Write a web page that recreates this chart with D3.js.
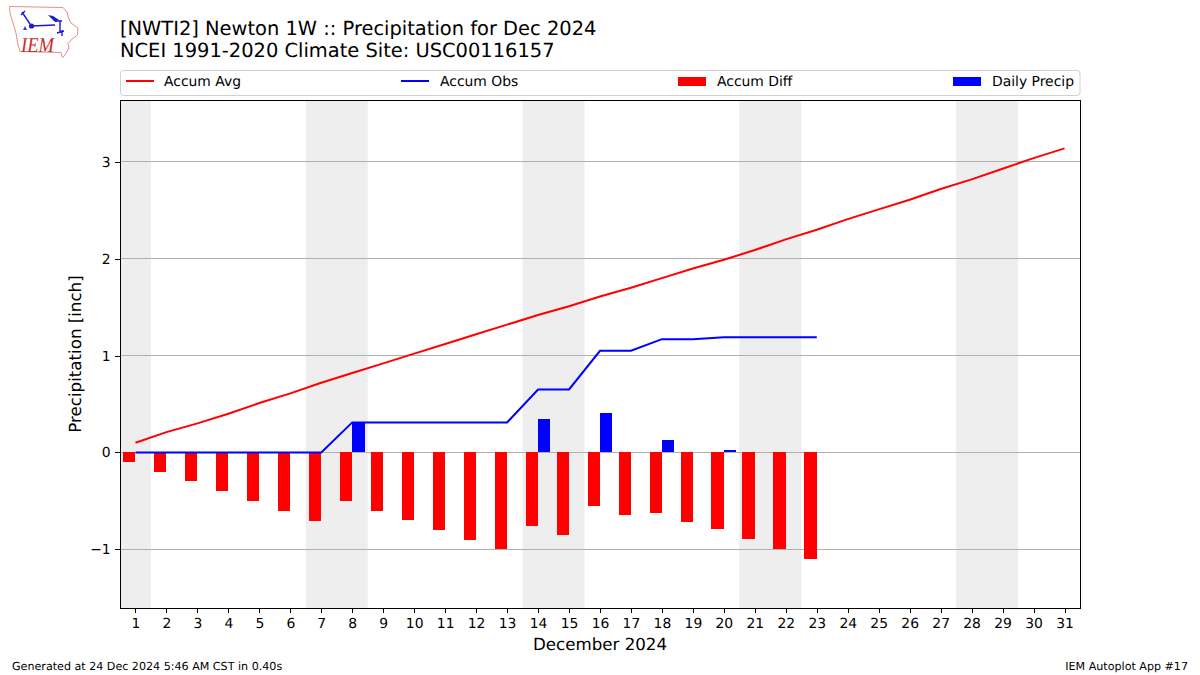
<!DOCTYPE html>
<html><head><meta charset="utf-8"><style>
html,body{margin:0;padding:0;background:#fff}
svg{display:block}
text{font-family:"DejaVu Sans",sans-serif;fill:#000;text-rendering:geometricPrecision}
</style><script src="https://cdn.jsdelivr.net/npm/d3@7"></script></head><body><svg id="c" width="1200" height="675"></svg>
<script>
const days = d3.range(1,32);
const accumAvg = [0.10,0.21,0.30,0.40,0.51,0.61,0.72,0.82,0.92,1.02,1.12,1.22,1.32,1.42,1.51,1.61,1.70,1.80,1.90,1.99,2.09,2.20,2.30,2.41,2.51,2.61,2.72,2.82,2.93,3.04,3.14];
const accumObs = [0,0,0,0,0,0,0,0.31,0.31,0.31,0.31,0.31,0.31,0.65,0.65,1.05,1.05,1.17,1.17,1.19,1.19,1.19,1.19];
const accumDiff = [-0.10,-0.20,-0.30,-0.40,-0.50,-0.605,-0.71,-0.50,-0.605,-0.70,-0.80,-0.905,-1.00,-0.76,-0.85,-0.555,-0.65,-0.63,-0.72,-0.79,-0.895,-1.00,-1.10];
const dailyDays = [8,14,16,18,20];
const dailyPrecip = [0.31,0.345,0.405,0.127,0.025];
const weekends = [[0.5,1.5],[6.5,8.5],[13.5,15.5],[20.5,22.5],[27.5,29.5]];
const yTicks = [-1,0,1,2,3];
const legendLabels = ["Accum Avg","Accum Obs","Accum Diff","Daily Precip"];
const titleLines = ["[NWTI2] Newton 1W :: Precipitation for Dec 2024","NCEI 1991-2020 Climate Site: USC00116157"];

const svg = d3.select("#c");
const L=120,R=1080,T=100,B=608;
const x = d3.scaleLinear().domain([0.5,31.5]).range([L,R]);
const y = d3.scaleLinear().domain([3.64,-1.607]).range([T,B]);
const barW = 0.4;

// logo
const logo = svg.append("g");
logo.append("path").attr("d","M9.5,6.5 L63,7.5 L67,12 L68.5,18 L71,23 L78,28 L77.5,35 L71,40 L68,43.5 L69,48 L65,55 L62.5,57.5 L61,52.5 L20,51.5 L18,45 L16,33 L11.5,18 L10,13 Z")
  .attr("fill","none").attr("stroke","#e58f8f").attr("stroke-width",1);
logo.append("path").attr("d","M32,26 L55,25 M22,12 L30,24 M21,15 L25,11 M55,21 L62,21 M60,21 L60,33 M57,33 L64,31 M62,30 L62,36")
  .attr("fill","none").attr("stroke","#1a1ad0").attr("stroke-width",1.4);
logo.append("path").attr("d","M48,15 L53,16 L59,20 L55,22 Z").attr("fill","#1a1ad0");
logo.append("circle").attr("cx",31.5).attr("cy",26).attr("r",2.6).attr("fill","#1a1ad0");
logo.append("path").attr("d","M23,30 L25,26 L27,30 Z").attr("fill","#3a3ad0");
logo.append("text").attr("x",21).attr("y",52).attr("textLength",33).attr("lengthAdjust","spacingAndGlyphs")
  .style("font-family","Liberation Serif").style("font-style","italic").style("font-size","21px").style("fill","#cc2a2a").text("IEM");

// titles
svg.selectAll("text.title").data(titleLines).join("text").attr("class","title")
  .attr("x",120).attr("y",(d,i)=>35+i*22).style("font-size","19.44px").text(d=>d);

// weekend bands
svg.append("g").selectAll("rect").data(weekends).join("rect")
  .attr("x",d=>x(d[0])).attr("width",d=>x(d[1])-x(d[0])).attr("y",T).attr("height",B-T).attr("fill","#eeeeee");

// grid
svg.append("g").attr("shape-rendering","crispEdges").selectAll("line").data(yTicks).join("line")
  .attr("x1",L).attr("x2",R).attr("y1",d=>y(d)).attr("y2",d=>y(d)).attr("stroke","#b0b0b0").attr("stroke-width",1);

// bars
svg.append("g").attr("shape-rendering","crispEdges").selectAll("rect").data(accumDiff).join("rect")
  .attr("x",(d,i)=>x(days[i]-barW)).attr("width",(d,i)=>x(days[i])-x(days[i]-barW))
  .attr("y",y(0)).attr("height",d=>y(d)-y(0)).attr("fill","#ff0000");
svg.append("g").attr("shape-rendering","crispEdges").selectAll("rect").data(dailyPrecip).join("rect")
  .attr("x",(d,i)=>x(dailyDays[i])).attr("width",(d,i)=>x(dailyDays[i]+barW)-x(dailyDays[i]))
  .attr("y",d=>y(d)).attr("height",d=>y(0)-y(d)).attr("fill","#0000ff");

// lines
const line = d3.line().x((d,i)=>x(days[i])).y(d=>y(d));
svg.append("path").attr("d",line(accumAvg)).attr("fill","none").attr("stroke","#ff0000").attr("stroke-width",2);
svg.append("path").attr("d",line(accumObs)).attr("fill","none").attr("stroke","#0000ff").attr("stroke-width",2);

// axes
const xAxis = d3.axisBottom(x).tickValues(days).tickFormat(d3.format("d")).tickSize(4.9).tickPadding(5.5);
const yAxis = d3.axisLeft(y).tickValues(yTicks).tickFormat(d=>d<0?"\u2212"+(-d):d).tickSize(4.9).tickPadding(4.5);
const gx = svg.append("g").attr("transform",`translate(0,${B})`).call(xAxis);
const gy = svg.append("g").attr("transform",`translate(${L},0)`).call(yAxis);
[gx,gy].forEach(g=>{g.selectAll("text").style("font-size","13.9px").style("font-family","DejaVu Sans");
  g.selectAll("line").attr("stroke","#000").attr("stroke-width",1).attr("shape-rendering","crispEdges"); g.select(".domain").remove();});
svg.append("rect").attr("x",L+0.5).attr("y",T+0.5).attr("width",R-L-0.5).attr("height",B-T-0.5).attr("fill","none").attr("stroke","#000").attr("stroke-width",1).attr("shape-rendering","crispEdges");

// axis labels
svg.append("text").attr("x",600).attr("y",649.5).attr("text-anchor","middle").style("font-size","16.67px").text("December 2024");
svg.append("text").attr("transform","translate(80.5,354) rotate(-90)").attr("text-anchor","middle").style("font-size","16.67px").text("Precipitation [inch]");

// legend
svg.append("rect").attr("x",120.5).attr("y",70.5).attr("width",959.5).attr("height",25).attr("rx",3)
  .attr("fill","#fff").attr("stroke","#d0d0d0").attr("stroke-width",1);
const legendX = [126,401,678,953];
const legendColors = ["#ff0000","#0000ff","#ff0000","#0000ff"];
legendLabels.forEach((t,i)=>{
  if(i<2) svg.append("line").attr("x1",legendX[i]).attr("x2",legendX[i]+28).attr("y1",81).attr("y2",81).attr("stroke",legendColors[i]).attr("stroke-width",2);
  else svg.append("rect").attr("x",legendX[i]).attr("y",77).attr("width",28).attr("height",9).attr("fill",legendColors[i]);
  svg.append("text").attr("x",legendX[i]+(i==0?38:39)).attr("y",86).style("font-size","13.9px").text(t);
});

// footers
svg.append("text").attr("x",12).attr("y",670).style("font-size","11.11px").text("Generated at 24 Dec 2024 5:46 AM CST in 0.40s");
svg.append("text").attr("x",1188).attr("y",670).attr("text-anchor","end").style("font-size","11.11px").text("IEM Autoplot App #17");
</script></body></html>
